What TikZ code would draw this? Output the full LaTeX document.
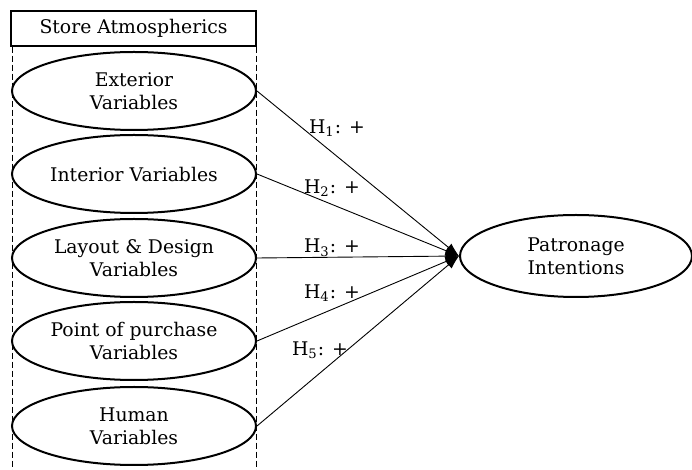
\documentclass[tikz,border=0pt]{standalone}
\usepackage{fontspec}
\setmainfont{DejaVu Serif}
\usetikzlibrary{arrows.meta,shapes.geometric,positioning}

\begin{document}
\begin{tikzpicture}[
    x=0.5pt, y=-0.5pt,
    font=\fontsize{9.4}{11.5}\selectfont,
    >={Latex[length=2.4mm,width=1.7mm]},
    construct/.style = {draw, ellipse, line width=1pt, align=center,
                        minimum width=122pt, minimum height=39pt, inner sep=0pt},
    groupbox/.style  = {draw, line width=0.6pt, minimum width=122.5pt,
                        minimum height=17.5pt, inner sep=0pt},
    hypo/.style      = {draw, line width=0.45pt, ->},
    hlbl/.style      = {inner sep=1pt},
    grouprule/.style = {draw, dash pattern=on 3pt off 1.5pt, line width=0.5pt},
  ]
  \useasboundingbox (0,0) rectangle (692,470);

  % ===================================================================
  % Left column: store atmospherics group
  % ===================================================================
  \node[groupbox] (hdr) at (133.5,28.5) {Store Atmospherics};

  \node[construct] (ext) at (134,91)  {Exterior\\Variables};
  \node[construct] (int) at (134,174) {Interior Variables};
  \node[construct] (lay) at (134,258) {Layout \& Design\\Variables};
  \node[construct] (pop) at (134,341) {Point of purchase\\Variables};
  \node[construct] (hum) at (134,426) {Human\\Variables};

  % dashed group borders
  \coordinate (lbot) at (12,470);
  \draw[grouprule] (hdr.south west -| lbot) -- (lbot);
  \draw[grouprule] (hdr.south east) -- (hdr.south east |- lbot);

  % ===================================================================
  % Outcome construct
  % ===================================================================
  \node[construct, minimum width=116pt, minimum height=41pt] (pat)
    at (576,256) {Patronage\\Intentions};

  % ===================================================================
  % Hypothesised paths
  % ===================================================================
  \draw[hypo] (ext.east) -- (pat.west);
  \draw[hypo] (int.east) -- (pat.west);
  \draw[hypo] (lay.east) -- (pat.west);
  \draw[hypo] (pop.east) -- (pat.west);
  \draw[hypo] (hum.east) -- (pat.west);

  \node[hlbl] (h1) at (337,128) {H\textsubscript{1}: +};
  \node[hlbl] (h2) at (332,188) {H\textsubscript{2}: +};
  \node[hlbl] (h3) at (332,248) {H\textsubscript{3}: +};
  \node[hlbl] (h4) at (332,293) {H\textsubscript{4}: +};
  \node[hlbl] (h5) at (320,350) {H\textsubscript{5}: +};

\end{tikzpicture}
\end{document}
